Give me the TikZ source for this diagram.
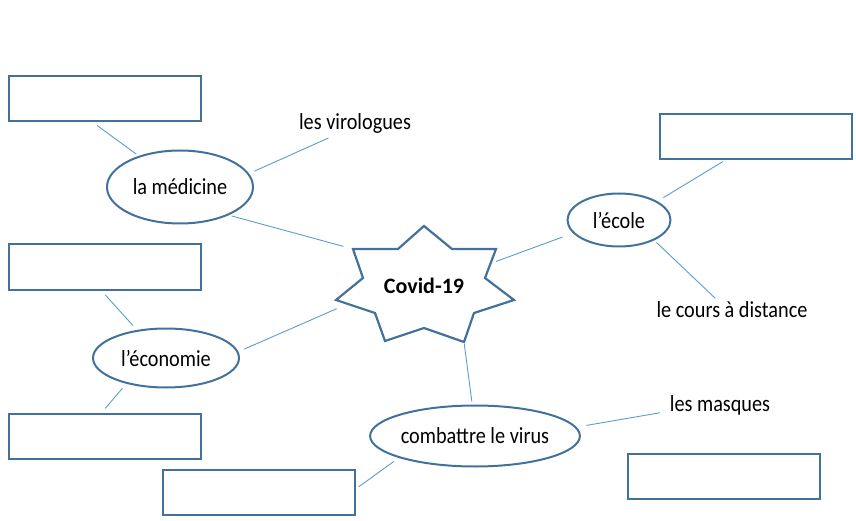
\documentclass[tikz,border=0pt]{standalone}
\usepackage{fontspec}
\setmainfont{Carlito}[FakeStretch=0.88]
\newfontfamily\covidfont{Carlito}
\usepackage{tikz}
\usetikzlibrary{shapes,calc}
\usetikzlibrary{positioning}
\definecolor{boxblue}{RGB}{65,113,156}
\definecolor{lineblue}{RGB}{91,155,213}

\begin{document}
\begin{tikzpicture}[x=1pt,y=-1pt,
  answer/.style={draw=boxblue, line width=2pt, minimum width=192pt, minimum height=45pt, inner sep=0pt},
  topic/.style={ellipse, draw=boxblue, line width=2pt, inner sep=0pt, font=\fontsize{23}{27}\selectfont},
  word/.style={inner sep=2pt, font=\fontsize{23}{27}\selectfont},
  link/.style={draw=lineblue, line width=0.9pt}]
\useasboundingbox (0,0) rectangle (856,521);

% empty answer boxes
\node[answer] (b1) at (105,99) {};
\node[answer] (b2) at (105,267) {};
\node[answer] (b3) at (105,436.5) {};
\node[answer] (b4) at (258.5,492.5) {};
\node[answer] (b5) at (755.5,136.5) {};
\node[answer] (b6) at (723.5,476.5) {};

% topics
\node[topic, minimum width=146pt, minimum height=73pt] (med) at (180,187) {la médicine};
\node[topic, minimum width=146pt, minimum height=59pt] (eco) at (166,358) {l’économie};
\node[topic, minimum width=103pt, minimum height=53pt] (ecole) at (619,220) {l’école};
\node[topic, minimum width=203pt, minimum height=61pt] (combat) at (475,436) {combattre le virus};

\node[word] (viro) at (355,123) {les virologues};
\node[word] (cours) at (732,310) {le cours à distance};
\node[word] (masques) at (720,405) {les masques};

% star
\coordinate (sT) at (424,226);
\coordinate (sTRi) at (452,249);
\coordinate (sUR) at (496,249);
\coordinate (sRi) at (485,278);
\coordinate (sR) at (514,300);
\coordinate (sLRi) at (474,313);
\coordinate (sLR) at (464,342);
\coordinate (sBi) at (424,328);
\coordinate (sLL) at (385,341);
\coordinate (sLLi) at (375,313);
\coordinate (sL) at (336,300);
\coordinate (sLi) at (363,278);
\coordinate (sUL) at (353,249);
\coordinate (sTLi) at (398,249);
\draw[draw=boxblue, line width=2.2pt, line join=miter] (sT) -- (sTRi) -- (sUR) -- (sRi) -- (sR) -- (sLRi) -- (sLR) -- (sBi) -- (sLL) -- (sLLi) -- (sL) -- (sLi) -- (sUL) -- (sTLi) -- cycle;
\node[font=\covidfont\bfseries\fontsize{22}{26}\selectfont] (covid) at (424,286) {Covid-19};

% connectors
\draw[link, shorten <=5pt, shorten >=3pt] (b1.243) -- (med.143);
\draw[link, shorten <=6pt, shorten >=7pt] (med.11) -- (viro.211);
\draw[link, shorten <=3pt, shorten >=10pt] (med.330) -- (sUL);
\draw[link, shorten <=6pt, shorten >=6pt] (b2.261) -- (eco.136);
\draw[link, shorten <=6pt, shorten >=12pt] (eco.5) -- ($(sL)!0.3!(sLLi)$);
\draw[link, shorten <=6pt, shorten >=6pt] (eco.213) -- (b3.99);
\draw[link, shorten <=2pt, shorten >=3pt] (sLR) -- (combat.95);
\draw[link, shorten <=6pt, shorten >=4pt] (combat.196) -- (b4.2);
\draw[link, shorten <=10pt, shorten >=8pt] (combat.5) -- (masques.187);
\draw[link, shorten <=6pt, shorten >=11pt] ($(sUR)!0.5!(sRi)$) -- (ecole.196);
\draw[link, shorten <=7pt, shorten >=3pt] (ecole.26) -- (b5.218);
\draw[link, shorten <=3pt, shorten >=2pt] (ecole.330) -- (cours.146);
\end{tikzpicture}
\end{document}
